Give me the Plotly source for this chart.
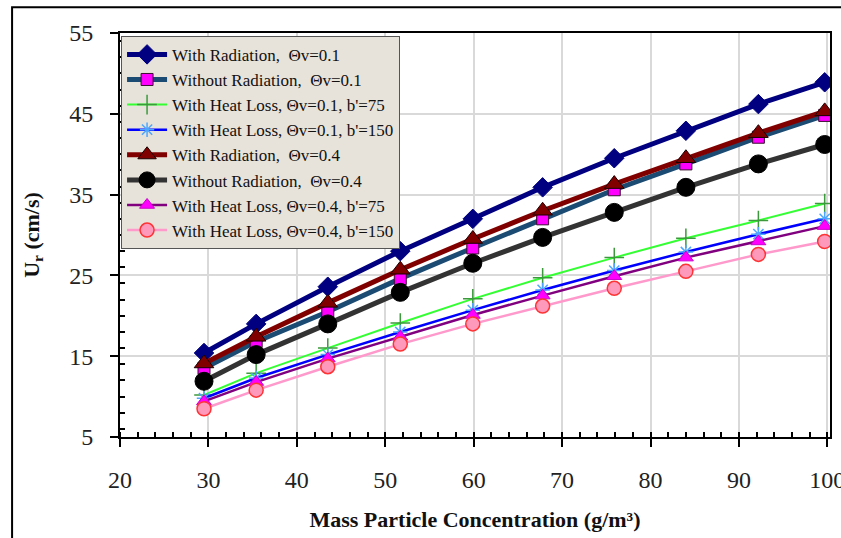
import plotly.graph_objects as go

x_conc = [29.5, 35.4, 43.5, 51.7, 59.9, 67.8, 75.9, 84.0, 92.2, 99.7]

rad_01 = [15.4, 19.0, 23.6, 28.0, 32.0, 35.9, 39.5, 42.9, 46.2, 48.9]
norad_01 = [13.5, 16.8, 20.5, 24.6, 28.4, 32.0, 35.6, 38.8, 42.1, 44.8]
hl_01_75 = [10.2, 12.9, 16.0, 19.1, 22.1, 24.7, 27.2, 29.6, 31.8, 33.9]
hl_01_150 = [9.8, 12.3, 15.2, 18.0, 20.7, 23.2, 25.6, 27.9, 30.1, 32.0]
rad_04 = [14.1, 17.4, 21.6, 25.7, 29.5, 33.0, 36.3, 39.5, 42.6, 45.3]
norad_04 = [11.9, 15.2, 19.0, 22.9, 26.5, 29.7, 32.8, 35.9, 38.8, 41.2]
hl_04_75 = [9.4, 11.8, 14.7, 17.4, 20.1, 22.5, 24.9, 27.2, 29.2, 31.1]
hl_04_150 = [8.5, 10.8, 13.7, 16.5, 19.0, 21.2, 23.4, 25.5, 27.6, 29.2]

names = [
    "With Radiation,\u00a0 \u0398v=0.1",
    "Without Radiation,\u00a0 \u0398v=0.1",
    "With Heat Loss, \u0398v=0.1, b'=75",
    "With Heat Loss, \u0398v=0.1, b'=150",
    "With Radiation,\u00a0 \u0398v=0.4",
    "Without Radiation,\u00a0 \u0398v=0.4",
    "With Heat Loss, \u0398v=0.4, b'=75",
    "With Heat Loss, \u0398v=0.4, b'=150",
]
series = [rad_01, norad_01, hl_01_75, hl_01_150, rad_04, norad_04, hl_04_75, hl_04_150]

styles = [
    dict(line=dict(color="#000080", width=5), marker=dict(symbol="diamond", size=15, color="#000080", line=dict(color="#000080", width=1))),
    dict(line=dict(color="#1B4A72", width=5), marker=dict(symbol="square", size=12, color="#FF00FF", line=dict(color="#3A1030", width=1))),
    dict(line=dict(color="#33FF33", width=2), marker=dict(symbol="cross-thin-open", size=14, color="#3C9A3C", line=dict(color="#3C9A3C", width=1.5))),
    dict(line=dict(color="#0000FF", width=2.5), marker=dict(symbol="asterisk-open", size=12, color="#4DA6FF", line=dict(color="#4DA6FF", width=1.5))),
    dict(line=dict(color="#800000", width=5), marker=dict(symbol="triangle-up", size=17, color="#800000", line=dict(color="#1A0000", width=1))),
    dict(line=dict(color="#333333", width=5), marker=dict(symbol="circle", size=18, color="#000000", line=dict(color="#000000", width=1))),
    dict(line=dict(color="#800080", width=2.5), marker=dict(symbol="triangle-up", size=13, color="#FF00FF", line=dict(color="#CC00CC", width=1))),
    dict(line=dict(color="#FF99CC", width=2.5), marker=dict(symbol="circle", size=14, color="#FF99BB", line=dict(color="#FF3333", width=1.5))),
]

fig = go.Figure()
for i, (nm, ys, st) in enumerate(zip(names, series, styles)):
    fig.add_trace(go.Scatter(x=x_conc, y=ys, name=nm, mode="lines+markers",
                             line=st["line"], marker=st["marker"], legendgroup=str(i)))

serif = "Liberation Serif"

fig.update_layout(
    width=841, height=538,
    margin=dict(l=120, r=11, t=33, b=101),
    plot_bgcolor="white", paper_bgcolor="white",
    font=dict(family=serif, color="#222"),
    showlegend=True,
    legend=dict(x=0.0015, y=0.993, xanchor="left", yanchor="top",
                bgcolor="#E8E3DA", bordercolor="#555", borderwidth=1,
                font=dict(family=serif, size=17, color="#111"),
                tracegroupgap=0, itemwidth=40),
    xaxis=dict(range=[20, 100.3], tickvals=[20, 30, 40, 50, 60, 70, 80, 90, 100],
               showgrid=True, gridcolor="#D9D9D9", gridwidth=1.5,
               showline=True, linecolor="black", linewidth=2, mirror=True,
               ticks="outside", ticklen=8, tickwidth=1.5, tickcolor="black",
               minor=dict(dtick=2, tick0=20, ticks="inside", ticklen=5, tickwidth=1.5, tickcolor="black", showgrid=False),
               tickfont=dict(family=serif, size=24, color="#222"), ticklabelstandoff=12,
               ticklabeloverflow="allow", automargin=False,
               zeroline=False,
               title=dict(text="<b>Mass Particle Concentration (g/m\u00b3)</b>", font=dict(family=serif, size=22, color="#111"), standoff=20)),
    yaxis=dict(range=[5, 55], dtick=10, tick0=5, showgrid=True, gridcolor="#D9D9D9", gridwidth=1.5,
               showline=True, linecolor="black", linewidth=2, mirror=True,
               ticks="outside", ticklen=8, tickwidth=1.5, tickcolor="black",
               minor=dict(dtick=2, ticks="inside", ticklen=5, tickwidth=1.5, tickcolor="black", showgrid=False),
               tickfont=dict(family=serif, size=24, color="#222"), ticklabelstandoff=12,
               ticklabeloverflow="allow", automargin=False,
               zeroline=False,
               title=dict(text="<b>U<sub>r</sub> (cm/s)</b>", font=dict(family=serif, size=22, color="#111"), standoff=24)),
    shapes=[dict(type="rect", xref="paper", yref="paper", x0=-0.152, x1=1.03, y0=-0.27, y1=1.064,
                 line=dict(color="black", width=2), fillcolor="rgba(0,0,0,0)", layer="below")],
)

fig.write_html("out.html")
